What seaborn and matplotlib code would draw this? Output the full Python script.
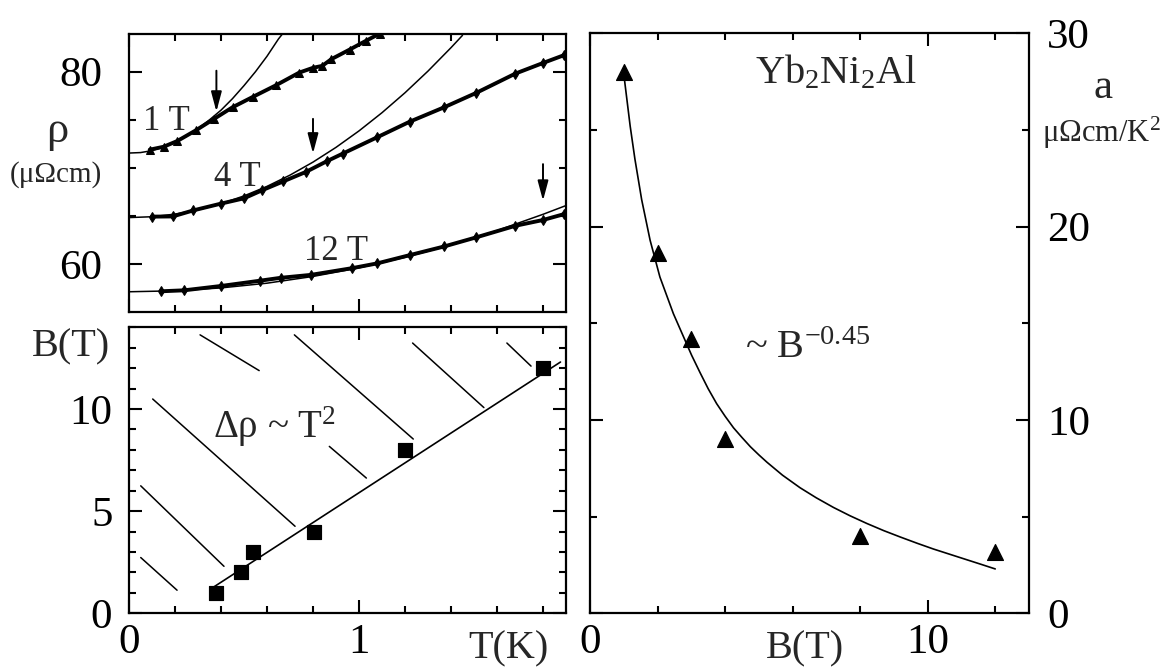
import matplotlib
matplotlib.use("Agg")
import matplotlib.pyplot as plt
import seaborn as sns
import pandas as pd
from matplotlib.ticker import MultipleLocator, FixedLocator
from matplotlib.patches import ArrowStyle

# ---------------- data ----------------
# top-left panel: rho(T) at three fields
T_1T = [0.09, 0.15, 0.21, 0.29, 0.37, 0.45, 0.54, 0.64, 0.74, 0.80, 0.84, 0.88, 0.96, 1.03, 1.09]
rho_1T = [71.9, 72.2, 72.8, 73.9, 75.1, 76.3, 77.4, 78.6, 79.9, 80.4, 80.6, 81.3, 82.3, 83.2, 83.95]
T_4T = [0.10, 0.19, 0.28, 0.40, 0.50, 0.58, 0.67, 0.77, 0.86, 0.93, 1.08, 1.22, 1.37, 1.51, 1.68, 1.80, 1.89]
rho_4T = [64.95, 64.97, 65.6, 66.3, 66.85, 67.7, 68.6, 69.6, 70.7, 71.5, 73.2, 74.8, 76.3, 77.8, 79.8, 80.9, 81.7]
T_12T = [0.14, 0.24, 0.40, 0.57, 0.66, 0.79, 0.97, 1.08, 1.22, 1.37, 1.51, 1.68, 1.80, 1.89]
rho_12T = [57.2, 57.3, 57.75, 58.3, 58.6, 58.9, 59.6, 60.1, 60.95, 61.85, 62.8, 64.0, 64.6, 65.2]

fitT_1T = [0.0, 0.05, 0.10, 0.15, 0.20, 0.25, 0.30, 0.35, 0.40, 0.45, 0.50, 0.55, 0.60, 0.65, 0.67]
fitrho_1T = [71.55, 71.6, 71.8, 72.2, 72.7, 73.3, 74.1, 75.0, 76.0, 77.2, 78.55, 80.0, 81.6, 83.4, 84.0]
fitT_4T = [0.0, 0.1, 0.2, 0.3, 0.4, 0.5, 0.6, 0.7, 0.8, 0.9, 1.0, 1.1, 1.2, 1.3, 1.4, 1.45]
fitrho_4T = [64.85, 64.94, 65.21, 65.66, 66.29, 67.1, 68.09, 69.26, 70.61, 72.14, 73.85, 75.74, 77.81, 80.06, 82.49, 83.77]
fitT_12T = [0.0, 0.2, 0.4, 0.6, 0.8, 1.0, 1.2, 1.4, 1.6, 1.8, 1.9]
fitrho_12T = [57.15, 57.25, 57.55, 58.04, 58.74, 59.63, 60.72, 62.01, 63.5, 65.19, 66.1]

arrow_T = [0.38, 0.80, 1.80]
arrow_top = [80.1, 75.1, 70.4]
arrow_tip = [75.85, 71.5, 66.6]
field_labels = ["1 T", "4 T", "12 T"]
field_label_T = [0.06, 0.37, 0.76]
field_label_rho = [73.95, 68.1, 60.45]

# bottom-left panel: crossover B(T)
cross_T = [0.38, 0.486, 0.538, 0.803, 1.20, 1.80]
cross_B = [1, 2, 3, 4, 8, 12]
crossline_T = [0.37, 1.876]
crossline_B = [1.3, 12.3]
hatch_T0 = [0.051, 0.051, 0.103, 0.309, 0.719, 0.871, 1.233, 1.643]
hatch_T1 = [0.209, 0.413, 0.722, 0.566, 1.236, 1.032, 1.543, 1.748]
hatch_B0 = [2.73, 6.24, 10.49, 13.63, 13.63, 8.17, 13.23, 13.23]
hatch_B1 = [1.13, 2.30, 4.26, 11.88, 8.53, 6.62, 10.07, 12.1]

# right panel: coefficient a(B)
B_vals = [1, 2, 3, 4, 8, 12]
a_vals = [28.0, 18.65, 14.2, 9.0, 4.0, 3.2]
fit_B = [1.0, 1.19, 1.33, 1.53, 1.78, 2.07, 2.47, 3.01, 3.26, 3.5, 3.75, 4.0, 4.25, 4.5,
         4.75, 5.0, 5.24, 5.7, 6.22, 6.7, 7.21, 7.7, 8.2, 8.7, 9.19, 9.7, 10.17, 10.9, 11.56, 12.0]
fit_a = [27.9, 25.2, 23.5, 21.4, 19.3, 17.4, 15.5, 13.35, 12.45, 11.62, 10.85, 10.2, 9.6, 9.1,
         8.62, 8.2, 7.82, 7.15, 6.5, 5.98, 5.48, 5.05, 4.65, 4.28, 3.95, 3.62, 3.33, 2.92, 2.55, 2.3]

# ---------------- style ----------------
sns.set_style("ticks")
plt.rcParams['font.family'] = ['Liberation Serif', 'DejaVu Serif']
plt.rcParams['mathtext.fontset'] = 'custom'
plt.rcParams['mathtext.rm'] = 'Liberation Serif'
plt.rcParams['mathtext.it'] = 'Liberation Serif:italic'
plt.rcParams['mathtext.default'] = 'regular'
plt.rcParams['axes.linewidth'] = 1.6

TICK_FS = 31
LABEL_FS = 29

fig = plt.figure(figsize=(11.69, 6.68), dpi=100)
W, H = 1169.0, 668.0
ax1 = fig.add_axes([129 / W, 1 - 311.7 / H, 437 / W, 277.7 / H])
ax2 = fig.add_axes([129 / W, 1 - 613.3 / H, 437 / W, 286.0 / H])
ax3 = fig.add_axes([590 / W, 1 - 613.4 / H, 439 / W, 580.0 / H])


def style_ticks(ax):
    ax.tick_params(which='both', direction='in', top=True, right=True,
                   width=1.5, colors='black')
    ax.tick_params(which='major', length=9.5)
    ax.tick_params(which='minor', length=5)
    for s in ax.spines.values():
        s.set_linewidth(1.6)
        s.set_color('black')


# ---------- top-left ----------
for T, r, mk in [(T_1T, rho_1T, '^'), (T_4T, rho_4T, 'd'), (T_12T, rho_12T, 'd')]:
    sns.lineplot(x=T, y=r, ax=ax1, color='black', lw=2.8, marker=mk, markersize=5.5,
                 markeredgecolor='black', sort=False, estimator=None)
for T, r in [(fitT_1T, fitrho_1T), (fitT_4T, fitrho_4T), (fitT_12T, fitrho_12T)]:
    sns.lineplot(x=T, y=r, ax=ax1, color='black', lw=1.1, sort=False, estimator=None)
style = ArrowStyle('-|>', head_length=0.6, head_width=0.16)
for t, a0, a1 in zip(arrow_T, arrow_top, arrow_tip):
    ax1.annotate('', xy=(t, a1), xytext=(t, a0),
                 arrowprops=dict(arrowstyle=style, color='black', lw=1.4,
                                 mutation_scale=20, shrinkA=0, shrinkB=0))
for lab, t, r in zip(field_labels, field_label_T, field_label_rho):
    ax1.text(t, r, lab, fontsize=25, ha='left', va='baseline')
ax1.set_xlim(0, 1.9)
ax1.set_ylim(55.08, 83.91)
ax1.xaxis.set_major_locator(FixedLocator([0, 1]))
ax1.xaxis.set_minor_locator(MultipleLocator(0.2))
ax1.yaxis.set_major_locator(MultipleLocator(20))
ax1.yaxis.set_minor_locator(MultipleLocator(5))
style_ticks(ax1)
ax1.tick_params(labelbottom=False)
ax1.tick_params(axis='y', labelsize=TICK_FS, pad=19)
ax1.set_xlabel('')
ax1.set_ylabel('')

# ---------- bottom-left ----------
for t0, t1, b0, b1 in zip(hatch_T0, hatch_T1, hatch_B0, hatch_B1):
    sns.lineplot(x=[t0, t1], y=[b0, b1], ax=ax2, color='black', lw=1.1,
                 sort=False, estimator=None)
sns.lineplot(x=crossline_T, y=crossline_B, ax=ax2, color='black', lw=1.2,
             sort=False, estimator=None)
sns.scatterplot(x=cross_T, y=cross_B, ax=ax2, marker='s', s=110, color='black',
                edgecolor='black', zorder=5)
ax2.text(0.366, 8.56, 'Δρ ~ T$^2$', fontsize=28, ha='left', va='baseline')
ax2.set_xlim(0, 1.9)
ax2.set_ylim(0, 14)
ax2.xaxis.set_major_locator(FixedLocator([0, 1]))
ax2.xaxis.set_minor_locator(MultipleLocator(0.2))
ax2.yaxis.set_major_locator(MultipleLocator(5))
ax2.yaxis.set_minor_locator(MultipleLocator(1))
style_ticks(ax2)
ax2.tick_params(axis='y', labelsize=TICK_FS, pad=12)
ax2.tick_params(axis='x', labelsize=TICK_FS, pad=7)
ax2.set_xticklabels(['0', '1'])
ax2.set_xlabel('')
ax2.set_ylabel('')
ax2.annotate('T(K)', xy=(1.65, 0), xycoords=('data', 'axes fraction'),
             xytext=(0, -12), textcoords='offset points', ha='center', va='top',
             fontsize=LABEL_FS)

# ---------- right ----------
sns.lineplot(x=fit_B, y=fit_a, ax=ax3, color='black', lw=1.2, sort=False, estimator=None)
sns.scatterplot(x=B_vals, y=a_vals, ax=ax3, marker='^', s=130, color='black',
                edgecolor='black', zorder=5)
ax3.text(4.88, 27.42, 'Yb$_2$Ni$_2$Al', fontsize=29, ha='left', va='baseline')
ax3.text(4.59, 13.2, '~ B$^{-0.45}$', fontsize=29, ha='left', va='baseline')
ax3.set_xlim(0, 13)
ax3.set_ylim(0, 30)
ax3.xaxis.set_major_locator(MultipleLocator(10))
ax3.xaxis.set_minor_locator(MultipleLocator(2))
ax3.yaxis.set_major_locator(MultipleLocator(10))
ax3.yaxis.set_minor_locator(MultipleLocator(5))
style_ticks(ax3)
ax3.tick_params(axis='y', labelleft=False, labelright=True, labelsize=TICK_FS, pad=13)
ax3.tick_params(axis='x', labelsize=TICK_FS, pad=7)
ax3.set_xlabel('')
ax3.set_ylabel('')
ax3.annotate('B(T)', xy=(6.37, 0), xycoords=('data', 'axes fraction'),
             xytext=(0, -12), textcoords='offset points', ha='center', va='top',
             fontsize=LABEL_FS)

# ---------- free labels ----------
fig.text(57 / W, 1 - 131 / H, 'ρ', fontsize=32, ha='center', va='center')
fig.text(56 / W, 1 - 175 / H, '(μΩcm)', fontsize=21, ha='center', va='center')
fig.text(71 / W, 1 - 347 / H, 'B(T)', fontsize=LABEL_FS, ha='center', va='center')
fig.text(1103 / W, 1 - 88 / H, 'a', fontsize=31, ha='center', va='center')
fig.text(1101 / W, 1 - 133 / H, 'μΩcm/K$^2$', fontsize=22, ha='center', va='center')

fig.savefig('out.png', dpi=100)
